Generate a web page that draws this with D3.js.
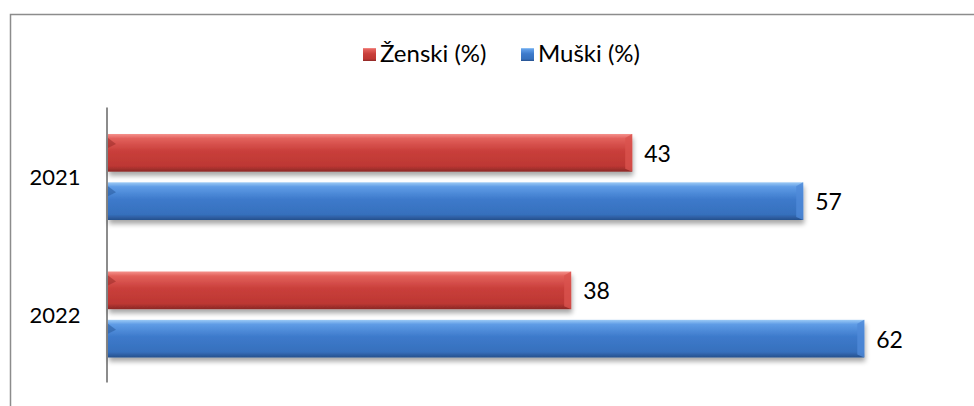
<!DOCTYPE html>
<html>
<head>
<meta charset="utf-8">
<script src="https://cdn.jsdelivr.net/npm/d3@7"></script>
<style>
  body { margin: 0; background: #fff; }
  svg { display: block; font-family: Lato, "Open Sans", sans-serif; }
</style>
</head>
<body>
<svg id="chart" width="974" height="406"></svg>
<script>
const years = ["2021", "2022"];
const seriesNames = ["Ženski (%)", "Muški (%)"];
const zenski = [43, 38];
const muski = [57, 62];

const width = 974, height = 406;
const svg = d3.select("#chart");

// frame (only top and left visible)
svg.append("path")
    .attr("d", `M10.5,${height} V14.5 H${width}`)
    .attr("fill", "none")
    .attr("stroke", "#8c8c8c")
    .attr("stroke-width", 1.5);

const defs = svg.append("defs");
const palettes = [
  { id: "gRed", stops: ["#f5918c", "#e2605b", "#c93f3b", "#bd3733", "#8a2826"] },
  { id: "gBlue", stops: ["#9ccaf6", "#5f9ce6", "#3d7acb", "#3670bd", "#264f8c"] }
];
palettes.forEach(p => {
  const g = defs.append("linearGradient").attr("id", p.id)
      .attr("x1", 0).attr("y1", 0).attr("x2", 0).attr("y2", 1);
  const offs = [0, 0.12, 0.45, 0.85, 1];
  p.stops.forEach((c, i) => g.append("stop").attr("offset", offs[i]).attr("stop-color", c));
});
const sh = defs.append("filter").attr("id", "shadow")
    .attr("x", "-5%").attr("y", "-20%").attr("width", "110%").attr("height", "160%");
sh.append("feGaussianBlur").attr("in", "SourceAlpha").attr("stdDeviation", 2.5);
sh.append("feOffset").attr("dx", 1).attr("dy", 4).attr("result", "b");
sh.append("feComponentTransfer").append("feFuncA").attr("type", "linear").attr("slope", 0.35);
const merge = sh.append("feMerge");
merge.append("feMergeNode");
merge.append("feMergeNode").attr("in", "SourceGraphic");

const x = d3.scaleLinear().domain([0, 70]).range([107, 962]);
const y = d3.scaleBand().domain(years).range([107, 382]).paddingInner(0).paddingOuter(0);
const inner = d3.scaleBand().domain([0, 1]).range([27, 113]).paddingInner(0.22);

// axis
svg.append("g")
    .attr("transform", `translate(${x(0) - 0.5},0)`)
    .call(d3.axisLeft(y).tickSize(0).tickPadding(26))
    .call(g => g.select(".domain").attr("stroke", "#8c8c8c").attr("stroke-width", 2))
    .call(g => g.selectAll("text").attr("font-size", 22).attr("fill", "#000")
        .attr("dy", "0.42em")
        .attr("font-family", "Lato, 'Open Sans', sans-serif"));

const rows = [];
years.forEach((yr, i) => {
  rows.push({ year: yr, s: 0, v: zenski[i] });
  rows.push({ year: yr, s: 1, v: muski[i] });
});

const bars = svg.append("g").selectAll("g").data(rows).join("g")
    .attr("transform", d => `translate(0,${y(d.year) + inner(d.s)})`);

bars.append("rect")
    .attr("x", x(0) + 1)
    .attr("y", 0)
    .attr("width", d => x(d.v) - x(0) - 1)
    .attr("height", inner.bandwidth())
    .attr("fill", d => d.s === 0 ? "url(#gRed)" : "url(#gBlue)")
    .attr("filter", "url(#shadow)");

// bevel highlight on right end and left corner
bars.append("path")
    .attr("d", d => {
      const r = x(d.v), h = inner.bandwidth();
      return `M${r - 7},4 L${r},0 L${r},${h} L${r - 7},${h - 3} Z`;
    })
    .attr("fill", d => d.s === 0 ? "#d9524d" : "#4f8ad8")
    .attr("opacity", 0.8);
bars.append("path")
    .attr("d", d => `M${x(0) + 1},4 L${x(0) + 9},10 L${x(0) + 1},14 Z`)
    .attr("fill", d => d.s === 0 ? "#9e2f2c" : "#2c5da0")
    .attr("opacity", 0.6);

bars.append("text")
    .attr("x", d => x(d.v) + 12)
    .attr("y", inner.bandwidth() / 2 + 9)
    .attr("font-size", 23)
    .attr("fill", "#000")
    .text(d => d.v);

// legend
const legend = svg.append("g");
const legItems = [
  { name: seriesNames[0], x: 363, grad: "url(#gRed)" },
  { name: seriesNames[1], x: 521, grad: "url(#gBlue)" }
];
legItems.forEach(it => {
  legend.append("rect").attr("x", it.x).attr("y", 48).attr("width", 13).attr("height", 13)
      .attr("fill", it.grad);
  legend.append("text").attr("x", it.x + 17).attr("y", 62)
      .attr("font-size", 24).attr("fill", "#000").text(it.name);
});
</script>
</body>
</html>
